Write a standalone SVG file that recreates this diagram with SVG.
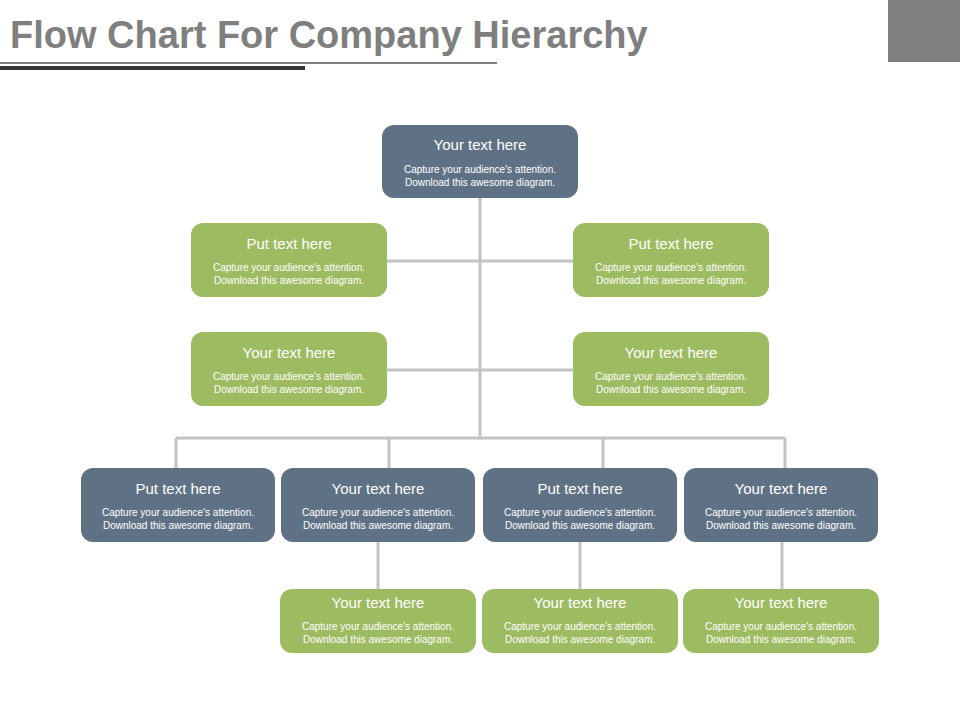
<svg xmlns="http://www.w3.org/2000/svg" width="960" height="720" viewBox="0 0 960 720">
<style>
.b{fill:#5f7285}.g{fill:#9dbb61}
.h{font-family:"Liberation Sans",Arial,sans-serif;font-size:15px;fill:#fff;text-anchor:middle}
.s{font-family:"Liberation Sans",Arial,sans-serif;font-size:10px;fill:#fff;text-anchor:middle}
.c{stroke:#c3c3c3;stroke-width:3;fill:none}
</style>
<rect width="960" height="720" fill="#fff"/>
<text x="10" y="48" font-family="Liberation Sans,Arial,sans-serif" font-weight="bold" font-size="38" fill="#7f7f7f">Flow Chart For Company Hierarchy</text>
<rect x="0" y="62" width="497" height="2" fill="#808080"/>
<rect x="0" y="66" width="305" height="4" fill="#333"/>
<rect x="888" y="0" width="72" height="62" fill="#808080"/>
<g id="connectors" class="c">
<path d="M480 198V438M387 261H573M387 370H573M176 438H785M176 438V468M389 438V468M603 438V468M785 438V468M378 542V589M580 542V589M782 542V589"/>
</g>
<g id="n0"><rect class="b" x="382" y="125" width="196" height="73" rx="12"/><text class="h" x="480" y="150">Your text here</text><text class="s" x="480" y="173">Capture your audience's attention.</text><text class="s" x="480" y="186">Download this awesome diagram.</text></g>
<g id="n1"><rect class="g" x="191" y="223" width="196" height="74" rx="12"/><text class="h" x="289" y="249">Put text here</text><text class="s" x="289" y="271">Capture your audience's attention.</text><text class="s" x="289" y="284">Download this awesome diagram.</text></g>
<g id="n2"><rect class="g" x="573" y="223" width="196" height="74" rx="12"/><text class="h" x="671" y="249">Put text here</text><text class="s" x="671" y="271">Capture your audience's attention.</text><text class="s" x="671" y="284">Download this awesome diagram.</text></g>
<g id="n3"><rect class="g" x="191" y="332" width="196" height="74" rx="12"/><text class="h" x="289" y="358">Your text here</text><text class="s" x="289" y="380">Capture your audience's attention.</text><text class="s" x="289" y="393">Download this awesome diagram.</text></g>
<g id="n4"><rect class="g" x="573" y="332" width="196" height="74" rx="12"/><text class="h" x="671" y="358">Your text here</text><text class="s" x="671" y="380">Capture your audience's attention.</text><text class="s" x="671" y="393">Download this awesome diagram.</text></g>
<g id="n5"><rect class="b" x="81" y="468" width="194" height="74" rx="12"/><text class="h" x="178" y="494">Put text here</text><text class="s" x="178" y="516">Capture your audience's attention.</text><text class="s" x="178" y="529">Download this awesome diagram.</text></g>
<g id="n6"><rect class="b" x="281" y="468" width="194" height="74" rx="12"/><text class="h" x="378" y="494">Your text here</text><text class="s" x="378" y="516">Capture your audience's attention.</text><text class="s" x="378" y="529">Download this awesome diagram.</text></g>
<g id="n7"><rect class="b" x="483" y="468" width="194" height="74" rx="12"/><text class="h" x="580" y="494">Put text here</text><text class="s" x="580" y="516">Capture your audience's attention.</text><text class="s" x="580" y="529">Download this awesome diagram.</text></g>
<g id="n8"><rect class="b" x="684" y="468" width="194" height="74" rx="12"/><text class="h" x="781" y="494">Your text here</text><text class="s" x="781" y="516">Capture your audience's attention.</text><text class="s" x="781" y="529">Download this awesome diagram.</text></g>
<g id="n9"><rect class="g" x="280" y="589" width="196" height="64" rx="12"/><text class="h" x="378" y="608">Your text here</text><text class="s" x="378" y="630">Capture your audience's attention.</text><text class="s" x="378" y="643">Download this awesome diagram.</text></g>
<g id="n10"><rect class="g" x="482" y="589" width="196" height="64" rx="12"/><text class="h" x="580" y="608">Your text here</text><text class="s" x="580" y="630">Capture your audience's attention.</text><text class="s" x="580" y="643">Download this awesome diagram.</text></g>
<g id="n11"><rect class="g" x="683" y="589" width="196" height="64" rx="12"/><text class="h" x="781" y="608">Your text here</text><text class="s" x="781" y="630">Capture your audience's attention.</text><text class="s" x="781" y="643">Download this awesome diagram.</text></g>
</svg>
